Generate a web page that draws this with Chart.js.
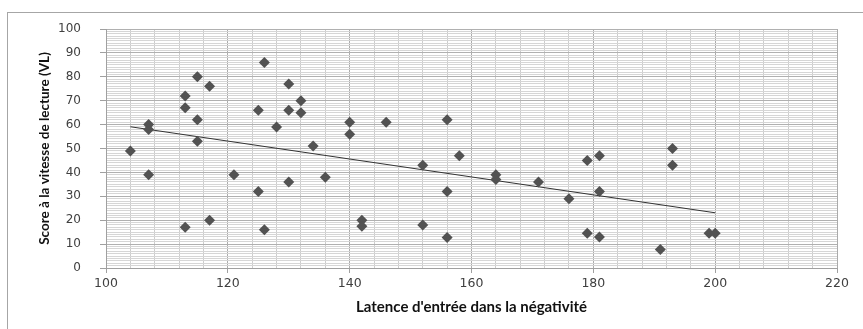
<!DOCTYPE html>
<html><head><meta charset="utf-8">
<script src="https://cdn.jsdelivr.net/npm/chart.js@4/dist/chart.umd.min.js"></script>
<style>
html,body{margin:0;padding:0;background:#fff;overflow:hidden;width:863px;height:329px;}
#frame{position:absolute;left:7px;top:12px;width:880px;height:340px;border-left:1px solid #a6a6a6;border-top:1px solid #a6a6a6;}
#wrap{position:absolute;left:0;top:0;width:863px;height:329px;}
</style></head><body>
<div id="frame"></div>
<div id="wrap"><canvas id="c"></canvas></div>
<script>
// Latence d'entrée dans la négativité (x) and Score VL (y)
const latence = [104,107,107,107,113,113,113,115,115,115,117,117,121,125,125,126,126,128,130,130,130,132,132,134,136,140,140,142,142,146,152,152,156,156,156,158,164,164,171,176,179,179,181,181,181,191,193,193,199,200];
const scoreVL = [49,60,58,39,72,67,17,80,62,53,76,20,39,66,32,86,16,59,77,66,36,70,65,51,38,61,56,20,17.5,61,43,18,62,32,12.8,47,39,37,36,29,45,14.5,47,32,13,7.7,50,43,14.5,14.5];
// Linear trend line endpoints
const trendX = [104, 200];
const trendY = [59.1, 23.1];
// Axis tick labels
const xTickLabels = [100,120,140,160,180,200,220];
const yTickLabels = [0,10,20,30,40,50,60,70,80,90,100];
const xMinorStep = 4;
const yMinorStep = 1;

const points = latence.map((x,i)=>({x:x, y:scoreVL[i]}));
const trend = trendX.map((x,i)=>({x:x, y:trendY[i]}));

function minorTicks(min,max,step){const t=[];for(let v=min;v<=max+1e-9;v+=step)t.push({value:Math.round(v*1000)/1000});return t;}
const isMajorX = v => xTickLabels.includes(v);
const isMajorY = v => yTickLabels.includes(v);

new Chart(document.getElementById('c'), {
  type:'scatter',
  data:{datasets:[
    {type:'line', data:trend, borderColor:'#333333', borderWidth:1, pointRadius:0, fill:false, tension:0, order:2},
    {data:points, pointStyle:'rectRot', pointRadius:5.5, pointHoverRadius:5.5, backgroundColor:'#525252', borderColor:'#525252', borderWidth:0, order:1}
  ]},
  options:{
    responsive:true, maintainAspectRatio:false, animation:false,
    layout:{padding:{top:29,right:26,left:0,bottom:0}},
    plugins:{legend:{display:false}, tooltip:{enabled:false}},
    scales:{
      x:{type:'linear', min:100, max:220,
        afterBuildTicks:s=>{s.ticks=minorTicks(100,220,xMinorStep);},
        afterFit:s=>{s.height=61;},
        grid:{color:c=>isMajorX(c.tick&&c.tick.value)?'#ababab':'#cdcdcd', lineWidth:1, tickLength:5,
              tickColor:c=>isMajorX(c.tick&&c.tick.value)?'#a0a0a0':'rgba(0,0,0,0)'},
        border:{display:true,color:'#a0a0a0'},
        ticks:{autoSkip:false, maxRotation:0, padding:3, color:'#404040',
          font:{family:'DejaVu Sans', size:12.5},
          callback:v=>isMajorX(v)?String(v):''},
        title:{display:true, text:"Latence d'entrée dans la négativité", color:'#111111',
          font:{family:'Lato', size:15, weight:'bold'}, padding:{top:2,bottom:13}}
      },
      y:{type:'linear', min:0, max:100,
        afterBuildTicks:s=>{s.ticks=minorTicks(0,100,yMinorStep);},
        afterFit:s=>{s.width=106;},
        grid:{color:c=>isMajorY(c.tick&&c.tick.value)?'#b0b0b0':'#d6d6d6', lineWidth:1, tickLength:6,
              tickColor:c=>isMajorY(c.tick&&c.tick.value)?'#a0a0a0':'rgba(0,0,0,0)'},
        border:{display:true,color:'#a0a0a0'},
        ticks:{autoSkip:false, padding:19, color:'#404040',
          font:{family:'DejaVu Sans', size:12},
          callback:v=>isMajorY(v)?String(v):''},
        title:{display:true, text:'Score à la vitesse de lecture (VL)', color:'#111111',
          font:{family:'Lato', size:13.5, weight:'bold'}, padding:{top:37,bottom:0}}
      }
    }
  }
});
</script>
</body></html>
